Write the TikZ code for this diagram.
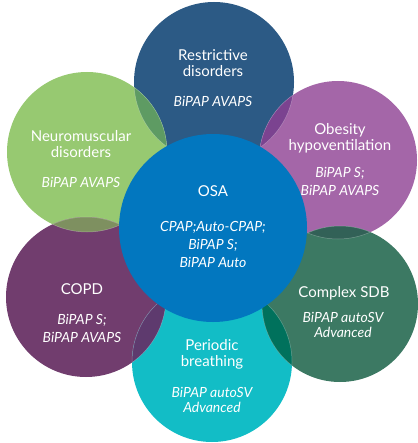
\documentclass[tikz,border=0pt]{standalone}
\usepackage{fontspec}
\setmainfont{Lato}
\definecolor{cRes}{HTML}{2C5A85}
\definecolor{cNeu}{HTML}{97C971}
\definecolor{cObe}{HTML}{A466A8}
\definecolor{cOSA}{HTML}{0277BF}
\definecolor{cCOP}{HTML}{713D6E}
\definecolor{cPer}{HTML}{12BDC6}
\definecolor{cCom}{HTML}{3C7963}
\definecolor{cResNeu}{HTML}{5E9B63}
\definecolor{cResObe}{HTML}{7B4390}
\definecolor{cObeCom}{HTML}{326157}
\definecolor{cComPer}{HTML}{00715C}
\definecolor{cPerCOP}{HTML}{5E3A6E}
\definecolor{cCOPNeu}{HTML}{7E9060}
\newcommand\lensfill[5]{%
  \begin{scope}\clip (#1) circle[radius=#2];\fill[#5] (#3) circle[radius=#4];\end{scope}%
  \begin{scope}\clip (#1) circle[radius=#2];\draw[white,opacity=0.3,line width=0.5pt] (#3) circle[radius=#4];\end{scope}%
  \begin{scope}\clip (#3) circle[radius=#4];\draw[white,opacity=0.3,line width=0.5pt] (#1) circle[radius=#2];\end{scope}}
\begin{document}
\begin{tikzpicture}[x=1pt,y=-1pt,
  disc/.style={circle,inner sep=0pt},
  lbl/.style={text=white,align=center,inner sep=0pt,font=\fontsize{15}{16}\selectfont},
  ther/.style={text=white,align=center,inner sep=0pt,font=\fontsize{14}{18}\selectfont\itshape},
  thert/.style={text=white,align=center,inner sep=0pt,font=\fontsize{14}{15}\selectfont\itshape}]
\useasboundingbox (0,0) rectangle (417,443);
\coordinate (pRes) at (214,82);
\coordinate (pNeu) at (87,152);
\coordinate (pObe) at (338,160);
\coordinate (pOSA) at (213,228);
\coordinate (pCOP) at (86,297);
\coordinate (pPer) at (212,362);
\coordinate (pCom) at (340,304);
\node[disc,fill=cRes,minimum size=160pt] (res) at (pRes) {};
\node[disc,fill=cNeu,minimum size=160pt] (neu) at (pNeu) {};
\node[disc,fill=cObe,minimum size=158pt] (obe) at (pObe) {};
\node[disc,fill=cCOP,minimum size=160pt] (cop) at (pCOP) {};
\node[disc,fill=cPer,minimum size=160pt] (per) at (pPer) {};
\node[disc,fill=cCom,minimum size=156pt] (com) at (pCom) {};
\lensfill{pRes}{80}{pNeu}{80}{cResNeu}
\lensfill{pRes}{80}{pObe}{79}{cResObe}
\lensfill{pObe}{79}{pCom}{78}{cObeCom}
\lensfill{pCom}{78}{pPer}{80}{cComPer}
\lensfill{pPer}{80}{pCOP}{80}{cPerCOP}
\lensfill{pCOP}{80}{pNeu}{80}{cCOPNeu}
\node[disc,fill=cOSA,minimum size=188pt] (osa) at (pOSA) {};
% texts
\node[lbl] (tRes) at (213,63) {Restrictive\\disorders};
\node[ther] (hRes) at (213,101) {BiPAP AVAPS};
\node[lbl] (tNeu) at (81,144) {Neuromuscular\\disorders};
\node[ther] (hNeu) at (81,182) {BiPAP AVAPS};
\node[lbl] (tObe) at (340,138) {Obesity\\hypoventilation};
\node[ther] (hObe) at (340,181) {BiPAP S;\\BiPAP AVAPS};
\node[lbl] (tOSA) at (213,191) {OSA};
\node[ther] (hOSA) at (213,244) {CPAP;Auto-CPAP;\\BiPAP S;\\BiPAP Auto};
\node[lbl] (tCOP) at (82,289) {COPD};
\node[ther] (hCOP) at (82,328) {BiPAP S;\\BiPAP AVAPS};
\node[lbl] (tCom) at (344,293) {Complex SDB};
\node[thert] (hCom) at (343,325) {BiPAP autoSV\\Advanced};
\node[lbl] (tPer) at (212,354) {Periodic\\breathing};
\node[thert] (hPer) at (212,400) {BiPAP autoSV\\Advanced};
\end{tikzpicture}
\end{document}
